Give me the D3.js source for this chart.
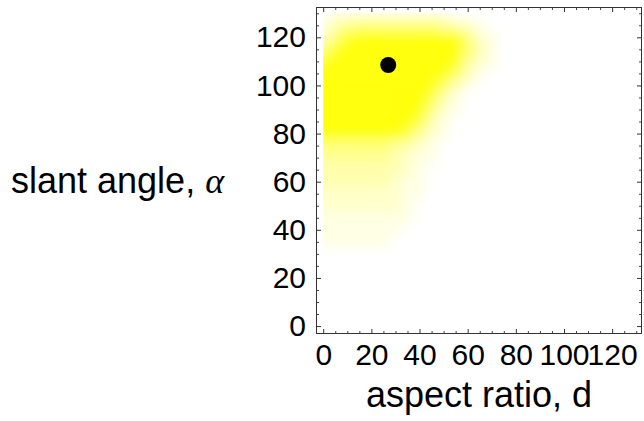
<!DOCTYPE html>
<html>
<head>
<meta charset="utf-8">
<script src="https://cdn.jsdelivr.net/npm/d3@7/dist/d3.min.js"></script>
<style>
  body { margin: 0; background: #fff; }
  text { font-family: "Liberation Sans", Arial, Helvetica, sans-serif; fill: #000; }
</style>
</head>
<body>
<svg id="chart" width="644" height="421"></svg>
<script>
// sample positions of the density grid
var dCols = [0, 5, 10, 15, 20, 25, 30, 35, 40, 45, 50, 55, 60, 65, 70, 75, 80, 85, 90, 95, 100, 105, 110, 115, 120, 125, 130];
var alphaRows = [130, 125, 120, 115, 110, 105, 100, 95, 90, 85, 80, 75, 70, 65, 60, 55, 50, 45, 40, 35, 30, 25, 20, 15, 10, 5, 0];
// yellow intensity 0..9, one char per d column
var shade = [
  "011111111110000000000000000",
  "134555555543210000000000000",
  "258999999999521000000000000",
  "589999999999631000000000000",
  "899999999999421000000000000",
  "999999999996310000000000000",
  "999999999963100000000000000",
  "999999999731000000000000000",
  "999999999521000000000000000",
  "999999997310000000000000000",
  "999999974210000000000000000",
  "555555432100000000000000000",
  "444444321100000000000000000",
  "333333321000000000000000000",
  "333333211000000000000000000",
  "222222211000000000000000000",
  "222222210000000000000000000",
  "111111110000000000000000000",
  "111111100000000000000000000",
  "111111000000000000000000000",
  "000000000000000000000000000",
  "000000000000000000000000000",
  "000000000000000000000000000",
  "000000000000000000000000000",
  "000000000000000000000000000",
  "000000000000000000000000000",
  "000000000000000000000000000"
];
var majorTicks = [0, 20, 40, 60, 80, 100, 120];
var minorTicks = [5, 10, 15, 25, 30, 35, 45, 50, 55, 65, 70, 75, 85, 90, 95, 105, 110, 115, 125, 130];
var optimum = { d: 27, alpha: 108.5 };

var svg = d3.select("#chart");
var x = d3.scaleLinear().domain([-3, 132.4]).range([316, 642]);
var y = d3.scaleLinear().domain([-3.3, 132.6]).range([334, 7]);
var color = d3.scaleLinear().domain([0, 9]).range(["#ffffff", "#ffff10"]);

var cells = [];
shade.forEach(function (row, i) {
  row.split("").forEach(function (ch, j) {
    cells.push({ d: dCols[j], a: alphaRows[i], v: +ch, i: i, j: j });
  });
});

var defs = svg.append("defs");
defs.append("clipPath").attr("id", "area")
  .append("rect")
  .attr("x", x(0)).attr("y", y(130))
  .attr("width", x(130) - x(0)).attr("height", y(0) - y(130));
defs.append("filter").attr("id", "soft")
  .attr("filterUnits", "userSpaceOnUse")
  .attr("x", 250).attr("y", -60).attr("width", 460).attr("height", 460)
  .append("feGaussianBlur").attr("stdDeviation", 6);

var half = 2.5, pad = 14;
function lo(c) { return c.d - half - (c.j === 0 ? pad : 0); }
function hi(c) { return c.d + half + (c.j === dCols.length - 1 ? pad : 0); }
function top_(c) { return c.a + half + (c.i === 0 ? pad : 0); }
function bot(c) { return c.a - half - (c.i === alphaRows.length - 1 ? pad : 0); }

svg.append("g").attr("clip-path", "url(#area)")
  .append("g").attr("filter", "url(#soft)")
  .selectAll("rect").data(cells).join("rect")
  .attr("x", function (c) { return x(lo(c)); })
  .attr("width", function (c) { return x(hi(c)) - x(lo(c)) + 0.5; })
  .attr("y", function (c) { return y(top_(c)); })
  .attr("height", function (c) { return y(bot(c)) - y(top_(c)) + 0.5; })
  .attr("fill", function (c) { return color(c.v); });

// frame ticks, pointing inward on all four sides
function tickAxis(axis, size, values, labels) {
  return axis.tickValues(values).tickSizeInner(-size).tickSizeOuter(0)
    .tickPadding(labels ? 10 : 0)
    .tickFormat(labels ? d3.format("d") : "");
}
function sides() {
  return [
    { gen: d3.axisBottom(x), t: "translate(0," + y(-3.3) + ")", lab: true },
    { gen: d3.axisTop(x), t: "translate(0," + y(132.6) + ")", lab: false },
    { gen: d3.axisLeft(y), t: "translate(" + x(-3) + ",0)", lab: true },
    { gen: d3.axisRight(y), t: "translate(" + x(132.4) + ",0)", lab: false }
  ];
}
sides().forEach(function (s) {
  var gm = svg.append("g").attr("transform", s.t)
    .call(tickAxis(s.gen, 3, minorTicks, false));
  gm.select(".domain").remove();
  gm.selectAll("line").attr("stroke", "#444");
});
sides().forEach(function (s) {
  var g = svg.append("g").attr("transform", s.t)
    .call(tickAxis(s.gen, 5, majorTicks, s.lab));
  g.select(".domain").remove();
  g.selectAll("line").attr("stroke", "#333");
  g.selectAll("text").attr("font-size", 30).attr("font-family", null).attr("fill", "#000");
});

svg.append("rect")
  .attr("x", 316.5).attr("y", 7.5).attr("width", 325).attr("height", 326)
  .attr("fill", "none").attr("stroke", "#333").attr("stroke-width", 1);

svg.append("circle")
  .attr("cx", x(optimum.d)).attr("cy", y(optimum.alpha)).attr("r", 8)
  .attr("fill", "#000");

svg.append("text")
  .attr("x", 479).attr("y", 407).attr("text-anchor", "middle")
  .attr("font-size", 36).text("aspect ratio, d");

var yl = svg.append("text").attr("x", 11).attr("y", 193).attr("font-size", 36);
yl.append("tspan").text("slant angle, ");
yl.append("tspan").attr("font-family", "'Liberation Serif', 'DejaVu Serif', serif")
  .attr("font-style", "italic").text("\u03b1");
</script>
</body>
</html>
